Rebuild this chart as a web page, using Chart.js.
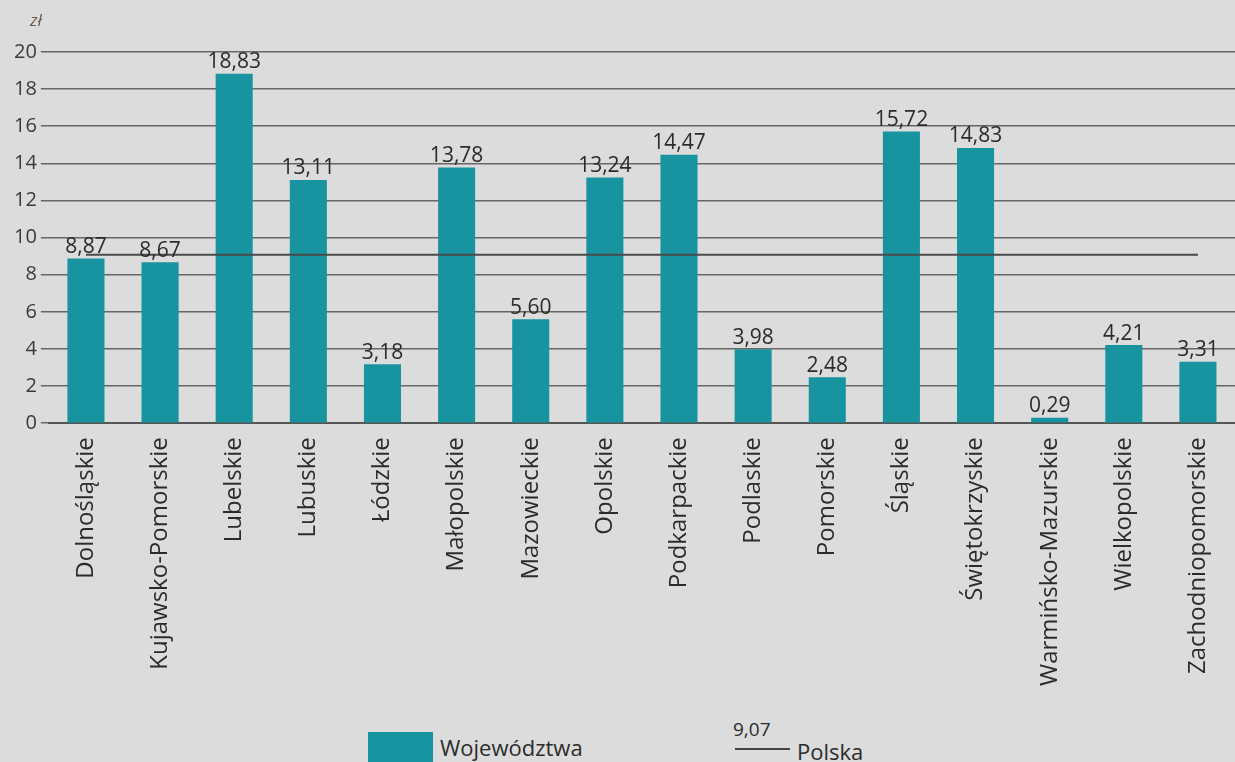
<!DOCTYPE html>
<html>
<head>
<meta charset="utf-8">
<script src="https://cdn.jsdelivr.net/npm/chart.js@4/dist/chart.umd.min.js"></script>
<style>
  html, body { margin: 0; padding: 0; background: #dcdcdc; }
  body { width: 1235px; height: 762px; position: relative; overflow: hidden; font-family: "Open Sans", sans-serif; color: #2b2b2b; }
  #wrap { position: absolute; left: 0; top: 0; width: 1235px; height: 692px; }
  #unit { position: absolute; left: 30px; top: 8px; font-size: 17px; color: #6a5a4a; font-style: italic; }
  .leg { position: absolute; font-size: 22px; }
  #legBox { position: absolute; left: 368px; top: 732px; width: 65px; height: 34px; background: #1894a0; }
  #legLine { position: absolute; left: 735px; top: 748px; width: 55px; height: 2px; background: #444; }
</style>
</head>
<body>
<div id="wrap"><canvas id="chart"></canvas></div>
<div id="unit">zł</div>
<div id="legBox"></div>
<div class="leg" style="left:440px; top:732px;">Województwa</div>
<div class="leg" style="left:733px; top:716px; font-size:19px;">9,07</div>
<div id="legLine"></div>
<div class="leg" style="left:797px; top:736px;">Polska</div>
<script>
// Dane: średnia wartość wg województw (zł)
const wojewodztwa = [
    'Dolnośląskie', 'Kujawsko-Pomorskie', 'Lubelskie', 'Lubuskie', 'Łódzkie',
    'Małopolskie', 'Mazowieckie', 'Opolskie', 'Podkarpackie', 'Podlaskie',
    'Pomorskie', 'Śląskie', 'Świętokrzyskie', 'Warmińsko-Mazurskie', 'Wielkopolskie',
    'Zachodniopomorskie'
];
const wartosci = [8.87, 8.67, 18.83, 13.11, 3.18, 13.78, 5.60, 13.24, 14.47, 3.98, 2.48, 15.72, 14.83, 0.29, 4.21, 3.31];
const polska = [9.07, 9.07, 9.07, 9.07, 9.07, 9.07, 9.07, 9.07, 9.07, 9.07, 9.07, 9.07, 9.07, 9.07, 9.07, 9.07];
const yTicks = [0, 2, 4, 6, 8, 10, 12, 14, 16, 18, 20];

const kolorSlupka = '#1894a0';
const kolorTekstu = '#2b2b2b';

function formatPL(v) {
    return v.toFixed(2).replace('.', ',');
}

// etykiety wartości nad słupkami
const etykietyPlugin = {
    id: 'etykiety',
    afterDatasetsDraw(chart) {
        const ctx = chart.ctx;
        const meta = chart.getDatasetMeta(1);
        ctx.save();
        ctx.font = '21px "Open Sans"';
        ctx.fillStyle = kolorTekstu;
        ctx.textAlign = 'center';
        ctx.textBaseline = 'bottom';
        meta.data.forEach((bar, i) => {
            ctx.fillText(formatPL(wartosci[i]), bar.x, bar.y - 1);
        });
        ctx.restore();
    }
};

const ctx = document.getElementById('chart').getContext('2d');
new Chart(ctx, {
    data: {
        labels: wojewodztwa,
        datasets: [
            {
                type: 'line',
                label: 'Polska',
                data: polska,
                borderColor: '#4a4a4a',
                borderWidth: 2,
                pointRadius: 0,
                order: 0
            },
            {
                type: 'bar',
                label: 'Województwa',
                data: wartosci,
                backgroundColor: kolorSlupka,
                barPercentage: 0.5,
                categoryPercentage: 1,
                order: 1
            }
        ]
    },
    plugins: [etykietyPlugin],
    options: {
        responsive: true,
        maintainAspectRatio: false,
        animation: false,
        layout: { padding: { top: 52, right: 0, left: 10, bottom: 0 } },
        plugins: {
            legend: { display: false },
            tooltip: { enabled: false }
        },
        scales: {
            x: {
                grid: { display: false },
                border: { color: '#555', width: 2 },
                ticks: {
                    autoSkip: false,
                    maxRotation: 90,
                    minRotation: 90,
                    color: kolorTekstu,
                    font: { family: 'Open Sans', size: 24 },
                    padding: 6
                }
            },
            y: {
                min: 0,
                max: 20,
                afterBuildTicks: axis => { axis.ticks = yTicks.map(v => ({ value: v })); },
                grid: { color: '#666', lineWidth: 1.5, tickLength: 8 },
                border: { display: false },
                ticks: {
                    color: '#3a3a3a',
                    font: { family: 'Open Sans', size: 20 },
                    padding: 4
                }
            }
        }
    }
});
</script>
</body>
</html>
